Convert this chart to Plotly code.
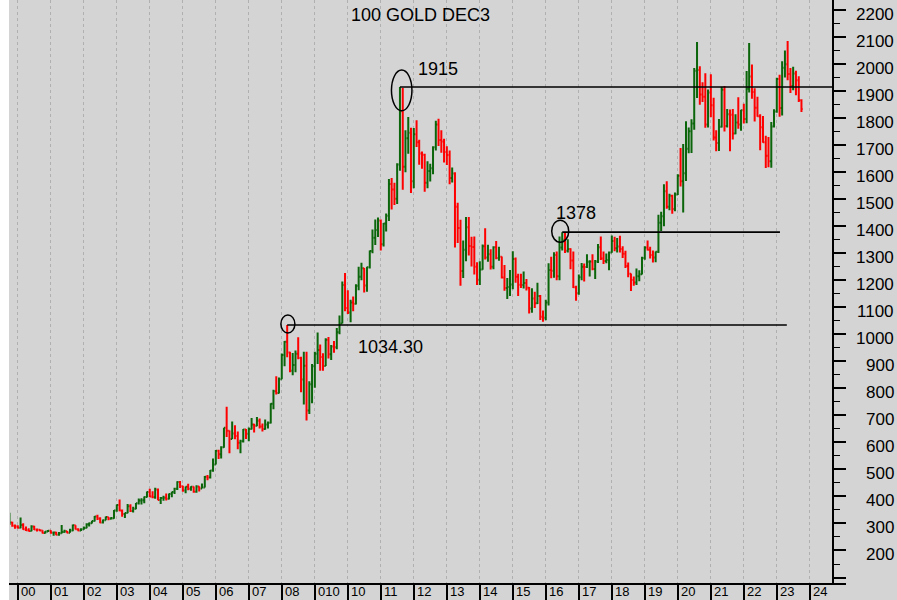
import pandas as pd
import plotly.graph_objects as go

# Monthly OHLC, gold futures continuation, Oct 1999 - Oct 2023 (one row per year)
opens = [
    298, 304, 292,
    289, 284, 294, 279, 275, 272, 289, 278, 277, 274, 265, 270,
    273, 266, 267, 258, 264, 268, 271, 266, 274, 293, 279, 274,
    279, 283, 297, 301, 309, 326, 318, 304, 312, 324, 317, 319,
    348, 368, 348, 335, 339, 364, 346, 354, 375, 385, 386, 398,
    416, 400, 397, 426, 387, 394, 395, 391, 409, 416, 428, 453,
    438, 422, 436, 428, 436, 417, 437, 429, 433, 473, 470, 496,
    518, 569, 556, 582, 654, 643, 613, 633, 624, 599, 604, 648,
    632, 650, 666, 662, 680, 659, 650, 666, 673, 743, 789, 783,
    834, 923, 972, 933, 865, 886, 928, 912, 833, 884, 718, 815,
    882, 928, 942, 916, 883, 980, 926, 955, 952, 1008, 1040, 1182,
    1097, 1081, 1118, 1113, 1180, 1213, 1244, 1181, 1248, 1308, 1357, 1386,
    1421, 1333, 1410, 1439, 1556, 1536, 1502, 1628, 1825, 1620, 1725, 1746,
    1566, 1740, 1711, 1669, 1664, 1561, 1604, 1614, 1692, 1776, 1719, 1713,
    1675, 1663, 1578, 1595, 1472, 1393, 1234, 1313, 1396, 1327, 1323, 1250,
    1202, 1240, 1326, 1284, 1296, 1250, 1322, 1282, 1287, 1210, 1171, 1175,
    1184, 1279, 1213, 1183, 1182, 1190, 1172, 1095, 1132, 1115, 1142, 1065,
    1061, 1118, 1238, 1235, 1293, 1215, 1321, 1350, 1309, 1316, 1273, 1174,
    1152, 1211, 1250, 1249, 1268, 1269, 1242, 1269, 1322, 1280, 1271, 1275,
    1303, 1345, 1318, 1325, 1316, 1298, 1253, 1224, 1201, 1192, 1215, 1222,
    1282, 1321, 1313, 1293, 1284, 1305, 1413, 1437, 1529, 1472, 1513, 1464,
    1517, 1587, 1566, 1596, 1687, 1751, 1780, 1975, 1978, 1887, 1879, 1776,
    1895, 1848, 1728, 1708, 1768, 1905, 1771, 1814, 1812, 1743, 1784, 1776,
    1829, 1797, 1909, 1954, 1897, 1838, 1807, 1766, 1711, 1661, 1640, 1769,
    1824, 1945, 1837, 1986, 1999, 1963, 1919, 1965, 1940, 1866,
]
highs = [
    340, 306, 296,
    293, 322, 301, 289, 282, 293, 292, 281, 279, 275, 272, 276,
    275, 270, 269, 268, 294, 277, 272, 280, 296, 293, 282, 282,
    289, 301, 304, 310, 328, 332, 323, 315, 326, 324, 324, 350,
    370, 389, 352, 340, 372, 371, 362, 376, 392, 393, 400, 418,
    428, 419, 432, 429, 398, 403, 411, 411, 417, 432, 456, 457,
    440, 437, 447, 438, 437, 441, 438, 448, 476, 479, 498, 540,
    572, 573, 586, 654, 732, 644, 677, 663, 640, 610, 650, 650,
    655, 690, 669, 694, 688, 670, 685, 677, 745, 795, 845, 840,
    929, 975, 1034.30, 935, 931, 940, 989, 917, 935, 935, 826, 890,
    935, 1007, 962, 930, 985, 990, 960, 975, 1023, 1070, 1195, 1227,
    1163, 1128, 1140, 1185, 1250, 1265, 1245, 1250, 1310, 1388, 1425, 1432,
    1425, 1412, 1447, 1575, 1578, 1561, 1633, 1915, 1911, 1755, 1804, 1764,
    1763, 1792, 1720, 1676, 1668, 1640, 1631, 1696, 1790, 1798, 1755, 1724,
    1696, 1680, 1617, 1600, 1487, 1424, 1347, 1434, 1434, 1361, 1362, 1267,
    1270, 1332, 1392, 1331, 1315, 1326, 1345, 1324, 1288, 1256, 1208, 1238,
    1307, 1284, 1224, 1224, 1232, 1205, 1175, 1170, 1157, 1191, 1145, 1088,
    1128, 1263, 1287, 1304, 1306, 1362, 1378, 1375, 1352, 1318, 1306, 1180,
    1221, 1264, 1262, 1296, 1274, 1296, 1275, 1334, 1362, 1306, 1299, 1306,
    1366, 1361, 1356, 1365, 1326, 1309, 1266, 1225, 1214, 1243, 1237, 1287,
    1326, 1347, 1324, 1310, 1306, 1442, 1453, 1555, 1566, 1520, 1516, 1525,
    1592, 1689, 1704, 1788, 1765, 1796, 1985, 2082, 1992, 1933, 1966, 1906,
    1962, 1875, 1755, 1797, 1916, 1919, 1834, 1832, 1834, 1814, 1877, 1831,
    1853, 1974, 2078, 1998, 1910, 1879, 1814, 1808, 1735, 1730, 1786, 1833,
    1949, 1960, 2010, 2050, 2085, 1985, 1990, 1975, 1955, 1870,
]
lows = [
    294, 288, 280,
    281, 282, 277, 272, 270, 271, 276, 270, 271, 263, 263, 268,
    262, 255, 256, 255, 263, 266, 264, 266, 271, 278, 271, 272,
    277, 282, 289, 300, 307, 313, 301, 300, 312, 312, 315, 317,
    343, 345, 325, 320, 338, 342, 341, 353, 370, 370, 375, 396,
    397, 393, 391, 386, 372, 384, 385, 389, 397, 409, 424, 431,
    417, 412, 423, 421, 414, 414, 418, 429, 433, 460, 466, 491,
    518, 539, 540, 580, 620, 560, 613, 612, 575, 560, 600, 613,
    604, 648, 637, 660, 651, 640, 647, 651, 670, 723, 777, 781,
    834, 882, 915, 860, 848, 860, 908, 786, 740, 681, 705, 745,
    802, 890, 865, 865, 883, 910, 905, 932, 945, 1000, 1040, 1085,
    1075, 1045, 1085, 1110, 1163, 1200, 1155, 1157, 1243, 1300, 1330, 1360,
    1310, 1325, 1380, 1419, 1462, 1478, 1482, 1605, 1535, 1600, 1668, 1523,
    1540, 1693, 1627, 1613, 1527, 1540, 1565, 1592, 1680, 1697, 1672, 1636,
    1626, 1555, 1562, 1321, 1338, 1180, 1208, 1270, 1292, 1251, 1221, 1182,
    1182, 1239, 1277, 1268, 1240, 1241, 1278, 1272, 1206, 1161, 1131, 1142,
    1167, 1191, 1142, 1171, 1169, 1162, 1077, 1080, 1097, 1112, 1053, 1046,
    1052, 1107, 1207, 1209, 1200, 1200, 1310, 1301, 1303, 1241, 1171, 1124,
    1146, 1200, 1195, 1245, 1214, 1237, 1205, 1264, 1275, 1260, 1263, 1237,
    1302, 1307, 1303, 1303, 1282, 1245, 1211, 1160, 1180, 1182, 1196, 1221,
    1276, 1310, 1280, 1266, 1267, 1301, 1382, 1400, 1465, 1459, 1446, 1455,
    1515, 1547, 1451, 1567, 1670, 1671, 1757, 1874, 1849, 1860, 1764, 1765,
    1803, 1717, 1677, 1678, 1765, 1750, 1765, 1677, 1721, 1740, 1761, 1753,
    1780, 1781, 1895, 1872, 1787, 1805, 1681, 1709, 1615, 1618, 1616, 1765,
    1820, 1805, 1810, 1950, 1940, 1893, 1903, 1885, 1860, 1823,
]
closes = [
    304, 292, 289,
    284, 294, 279, 275, 272, 289, 278, 277, 274, 265, 270, 273,
    266, 267, 258, 264, 268, 271, 266, 274, 293, 279, 274, 279,
    283, 297, 301, 309, 326, 318, 304, 312, 324, 317, 319, 348,
    368, 348, 335, 339, 364, 346, 354, 375, 385, 386, 398, 416,
    400, 397, 426, 387, 394, 395, 391, 409, 416, 428, 453, 438,
    422, 436, 428, 436, 417, 437, 429, 433, 473, 470, 496, 518,
    569, 556, 582, 654, 643, 613, 633, 624, 599, 604, 648, 632,
    650, 666, 662, 680, 659, 650, 666, 673, 743, 789, 783, 834,
    923, 972, 933, 865, 886, 928, 912, 833, 884, 718, 815, 882,
    928, 942, 916, 883, 980, 926, 955, 952, 1008, 1040, 1182, 1097,
    1081, 1118, 1113, 1180, 1213, 1244, 1181, 1248, 1308, 1357, 1386, 1421,
    1333, 1410, 1439, 1556, 1536, 1502, 1628, 1825, 1620, 1725, 1746, 1566,
    1740, 1711, 1669, 1664, 1561, 1604, 1614, 1692, 1776, 1719, 1713, 1675,
    1663, 1578, 1595, 1472, 1393, 1234, 1313, 1396, 1327, 1323, 1250, 1202,
    1240, 1326, 1284, 1296, 1250, 1322, 1282, 1287, 1210, 1171, 1175, 1184,
    1279, 1213, 1183, 1182, 1190, 1172, 1095, 1132, 1115, 1142, 1065, 1061,
    1118, 1238, 1235, 1293, 1215, 1321, 1350, 1309, 1316, 1273, 1174, 1152,
    1211, 1250, 1249, 1268, 1269, 1242, 1269, 1322, 1280, 1271, 1275, 1303,
    1345, 1318, 1325, 1316, 1298, 1253, 1224, 1201, 1192, 1215, 1222, 1282,
    1321, 1313, 1293, 1284, 1305, 1413, 1437, 1529, 1472, 1513, 1464, 1517,
    1587, 1566, 1596, 1687, 1751, 1780, 1975, 1978, 1887, 1879, 1776, 1895,
    1848, 1728, 1708, 1768, 1905, 1771, 1814, 1812, 1743, 1784, 1776, 1829,
    1797, 1909, 1954, 1897, 1838, 1807, 1766, 1711, 1661, 1640, 1769, 1824,
    1945, 1837, 1986, 1999, 1963, 1919, 1965, 1940, 1866, 1834,
]
assert len(opens) == len(highs) == len(lows) == len(closes)

months = pd.date_range("1999-10-01", periods=len(closes), freq="MS")

# Year strip along the bottom (the 2009 cell reads "010" on this chart)
label_years = list(range(2000, 2025))
year_labels = ["00", "01", "02", "03", "04", "05", "06", "07", "08", "010",
               "10", "11", "12", "13", "14", "15", "16", "17", "18", "19", "20",
               "21", "22", "23", "24"]

# Price scale labels on the right
price_ticks = list(range(200, 2300, 100))

# Marked levels: (month of the bar, extension end)
marks = [
    ("2008-03-01", "2023-04-22"),
    ("2011-08-01", "2024-09-03"),
    ("2016-07-01", "2023-02-05"),
]

BG = "#d4d4d4"
FONT = "Liberation Sans, Arial, sans-serif"
X_RANGE = ["1999-10-07", "2024-09-03"]
Y_RANGE = [76, 2237]
W, H = 897, 600
ML, MR, MT, MB = 10, 65, 0, 16
PW, PH = W - ML - MR, H - MT - MB

fig = go.Figure(go.Ohlc(
    x=months, open=opens, high=highs, low=lows, close=closes,
    increasing=dict(line=dict(color="#0b650b", width=2)),
    decreasing=dict(line=dict(color="#ff0000", width=2)),
    tickwidth=0.5, hoverinfo="skip",
))

shapes = []
annotations = []

# white sliver at the far left and the heavy base line
shapes.append(dict(type="rect", xref="paper", yref="paper",
                   x0=-ML / PW, x1=-1 / PW, y0=-MB / PH, y1=1,
                   fillcolor="white", line=dict(width=0), layer="above"))
shapes.append(dict(type="line", xref="paper", yref="paper",
                   x0=-1 / PW, x1=(846 - ML) / PW, y0=0, y1=0,
                   line=dict(color="black", width=2)))

# level lines, ellipses and their value labels
ellipse_px = {
    "2008-03-01": (-6.3, 7.7, -8, 10),
    "2011-08-01": (-8.5, 12, -23.7, 17),
    "2016-07-01": (-10.5, 6.5, -10, 12),
}
label_shift = {
    "2008-03-01": (103, -22),
    "2011-08-01": (38.5, 18),
    "2016-07-01": (14, 19),
}
month_keys = list(months.strftime("%Y-%m-%d"))
for start, end in marks:
    i = month_keys.index(start)
    level = highs[i]
    shapes.append(dict(type="line", xref="x", yref="y", x0=start, x1=end,
                       y0=level, y1=level, line=dict(color="black", width=1.6)))
    ex0, ex1, ey0, ey1 = ellipse_px[start]
    shapes.append(dict(type="circle", xref="x", yref="y",
                       xsizemode="pixel", ysizemode="pixel",
                       xanchor=start, yanchor=level,
                       x0=ex0, x1=ex1, y0=ey0, y1=ey1,
                       line=dict(color="black", width=1.5)))
    text = f"{level:.2f}" if level != int(level) else f"{int(level)}"
    dx, dy = label_shift[start]
    annotations.append(dict(xref="x", yref="y", x=start, y=level, text=text,
                            showarrow=False, xshift=dx, yshift=dy,
                            xanchor="center", yanchor="middle",
                            font=dict(family=FONT, size=18, color="black")))

# title
annotations.append(dict(xref="paper", yref="paper", x=(420 - ML) / PW, y=1 - 15 / PH,
                        text="100 GOLD DEC3", showarrow=False,
                        xanchor="center", yanchor="middle",
                        font=dict(family=FONT, size=18, color="black")))

# price labels, right aligned against the page edge
for v in price_ticks:
    annotations.append(dict(xref="paper", yref="y", x=(896 - ML) / PW, y=v,
                            text=str(v), showarrow=False, xanchor="right",
                            yanchor="middle", yshift=-4,
                            font=dict(family=FONT, size=17, color="black")))

# year labels in the bottom strip
for yr, lab in zip(label_years, year_labels):
    annotations.append(dict(xref="x", yref="paper", x=f"{yr}-01-01", y=-MB / PH,
                            text=lab, showarrow=False, xanchor="left",
                            yanchor="bottom", xshift=2, borderpad=0,
                            font=dict(family=FONT, size=13, color="black")))

fig.update_layout(
    width=W, height=H, autosize=False,
    margin=dict(l=ML, r=MR, t=MT, b=MB, pad=0),
    paper_bgcolor=BG, plot_bgcolor=BG,
    showlegend=False,
    shapes=shapes, annotations=annotations,
    xaxis=dict(type="date", range=X_RANGE, rangeslider=dict(visible=False),
               tick0="2000-01-01", dtick="M12",
               showgrid=True, gridcolor="#b0b0b0", griddash="dot", gridwidth=1,
               ticks="outside", ticklen=16, tickwidth=1.5, tickcolor="black",
               showticklabels=False, showline=False, zeroline=False),
    yaxis=dict(side="right", range=Y_RANGE, tick0=0, dtick=100,
               showgrid=False, zeroline=False, showticklabels=False,
               ticks="outside", ticklen=12, tickwidth=1.5, tickcolor="black",
               showline=True, linecolor="black", linewidth=2,
               minor=dict(tick0=0, dtick=50, ticks="outside", ticklen=6,
                          tickwidth=1, tickcolor="black", showgrid=False)),
)

fig.write_html("out.html")
